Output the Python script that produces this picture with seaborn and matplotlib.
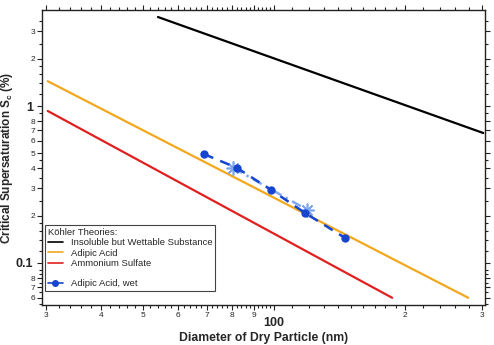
import pandas as pd
import matplotlib
matplotlib.use('Agg')
import matplotlib.pyplot as plt
from matplotlib.ticker import FixedLocator, FixedFormatter, NullFormatter
from matplotlib.lines import Line2D
import seaborn as sns

sns.set_theme(style='ticks')
plt.rcParams['font.family'] = ['Liberation Sans', 'DejaVu Sans']

# Köhler theory lines (end points, straight on log-log)
insol_d = [54.1, 302]
insol_sc = [3.69, 0.673]
adipic_d = [30.2, 279]
adipic_sc = [1.44, 0.060]
amsulf_d = [30.2, 186.6]
amsulf_sc = [0.93, 0.060]

# adipic acid, wet
wet_d = [69.0, 82.2, 98.4, 117.8, 145.7]
wet_sc = [0.494, 0.403, 0.292, 0.208, 0.144]
wet2_d = [80.6, 119.1]
wet2_sc = [0.403, 0.218]

# tick labels
x_ticks = [30, 40, 50, 60, 70, 80, 90, 100, 200, 300]
x_labels = ['3', '4', '5', '6', '7', '8', '9', '100', '2', '3']
y_ticks = [0.06, 0.07, 0.08, 0.1, 0.2, 0.3, 0.4, 0.5, 0.6, 0.7, 0.8, 1, 2, 3]
y_labels = ['6', '7', '8', '0.1', '2', '3', '4', '5', '6', '7', '8', '1', '2', '3']
x_fine = [32, 34, 36, 38, 42, 44, 46, 48, 52, 54, 56, 58, 62, 64, 66, 68,
          72, 74, 76, 78, 82, 84, 86, 88, 92, 94, 96, 98,
          110, 120, 130, 140, 150, 160, 170, 180, 190, 220, 240, 260, 280]
y_fine = [0.055, 0.065, 0.075, 0.085, 0.09, 0.12, 0.14, 0.16, 0.18, 0.25, 0.35, 0.45, 0.9,
          1.2, 1.4, 1.6, 1.8, 2.5, 3.5]

c_orange = '#F2A81D'
c_red = '#E0201E'
c_blue = '#1646D0'
c_lblue = '#7FA6F2'

fig = plt.figure(figsize=(4.94, 3.45), dpi=100)
ax = fig.add_axes([0.085, 0.116, 0.897, 0.855])

sns.lineplot(x=insol_d, y=insol_sc, ax=ax, color='black', lw=1.6)
sns.lineplot(x=adipic_d, y=adipic_sc, ax=ax, color=c_orange, lw=1.6)
sns.lineplot(x=amsulf_d, y=amsulf_sc, ax=ax, color=c_red, lw=1.6)

wet2 = pd.DataFrame({'d': wet2_d, 'sc': wet2_sc})
sns.lineplot(data=wet2, x='d', y='sc', ax=ax, color=c_lblue, lw=1.8,
             marker=(8, 2, 0), markersize=10, markeredgewidth=1.2,
             markeredgecolor=c_lblue, linestyle=(0, (4, 2, 1, 2)))
wet = pd.DataFrame({'d': wet_d, 'sc': wet_sc})
sns.lineplot(data=wet, x='d', y='sc', ax=ax, color=c_blue, lw=1.8,
             marker='o', markersize=6, markeredgewidth=0,
             linestyle=(0, (4, 3)))

ax.set_xscale('log')
ax.set_yscale('log')
ax.set_xlim(29.3, 305)
ax.set_ylim(0.054, 4.09)

ax.xaxis.set_major_locator(FixedLocator(x_ticks))
ax.xaxis.set_major_formatter(FixedFormatter(x_labels))
ax.xaxis.set_minor_locator(FixedLocator(x_fine))
ax.xaxis.set_minor_formatter(NullFormatter())
ax.yaxis.set_major_locator(FixedLocator(y_ticks))
ax.yaxis.set_major_formatter(FixedFormatter(y_labels))
ax.yaxis.set_minor_locator(FixedLocator(y_fine))
ax.yaxis.set_minor_formatter(NullFormatter())

ax.tick_params(which='both', direction='out', top=True, right=True, color='#222222', width=0.8)
ax.tick_params(which='major', length=3.5, pad=1.5, labelsize=6)
ax.tick_params(which='minor', length=2)

# decade ticks: longer, bold, bigger labels
for t, v in zip(ax.xaxis.get_major_ticks(), x_ticks):
    if v == 100:
        t.tick1line.set_markersize(6)
        t.tick2line.set_markersize(6)
        t.label1.set_fontsize(9)
        t.label1.set_fontweight('bold')
        t.set_pad(5)
for t, v in zip(ax.yaxis.get_major_ticks(), y_ticks):
    if v in (0.1, 1):
        t.tick1line.set_markersize(6)
        t.tick2line.set_markersize(6)
        t.label1.set_fontsize(9)
        t.label1.set_fontweight('bold')
        t.set_pad(3)

for s in ax.spines.values():
    s.set_linewidth(1.0)
    s.set_color('#222222')

ax.set_xlabel('Diameter of Dry Particle (nm)', fontsize=8.8, fontweight='bold', labelpad=2)
ax.set_ylabel('Critical Supersaturation S$_\\mathregular{c}$ (%)', fontsize=8.5,
              fontweight='bold', labelpad=0.5)

handles = [Line2D([], [], color='black', lw=1.2),
           Line2D([], [], color=c_orange, lw=1.2),
           Line2D([], [], color=c_red, lw=1.2),
           Line2D([], [], color='none'),
           Line2D([], [], color=c_blue, lw=1.2, marker='o', markersize=4)]
labels = ['Insoluble but Wettable Substance', 'Adipic Acid', 'Ammonium Sulfate', ' ',
          'Adipic Acid, wet']
leg = ax.legend(handles, labels, title='Köhler Theories:', loc='lower left',
                bbox_to_anchor=(0.007, 0.047), borderaxespad=0, fontsize=6.8,
                title_fontsize=6.8, alignment='left', fancybox=False, framealpha=1,
                edgecolor='#444444', handlelength=1.6, handletextpad=0.8,
                labelspacing=0.13, borderpad=0.3)
leg.get_frame().set_linewidth(0.8)

fig.savefig('out.png', dpi=100)
